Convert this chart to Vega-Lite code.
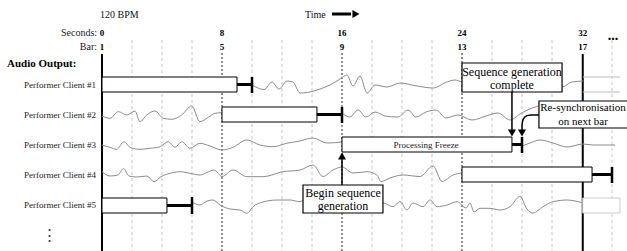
{
  "$schema": "https://vega.github.io/schema/vega-lite/v6.json",
  "width": 627,
  "height": 251,
  "autosize": {"type": "none"},
  "padding": 0,
  "background": "white",
  "config": {"view": {"stroke": null}, "font": "Liberation Serif"},
  "encoding": {
    "x": {"field": "sec", "type": "quantitative", "scale": {"domain": [-6.8, 35]}, "axis": null},
    "y": {"field": "v", "type": "quantitative", "scale": {"domain": [251, 0]}, "axis": null}
  },
  "layer": [
    {
      "data": {"values": [
        {"sec": 2, "v": 40, "v2": 251}, {"sec": 4, "v": 40, "v2": 251}, {"sec": 6, "v": 40, "v2": 251},
        {"sec": 10, "v": 40, "v2": 251}, {"sec": 12, "v": 40, "v2": 251}, {"sec": 14, "v": 40, "v2": 251},
        {"sec": 18, "v": 40, "v2": 251}, {"sec": 20, "v": 40, "v2": 251}, {"sec": 22, "v": 40, "v2": 251},
        {"sec": 26, "v": 40, "v2": 251}, {"sec": 28, "v": 40, "v2": 251}, {"sec": 30, "v": 40, "v2": 251},
        {"sec": 34, "v": 40, "v2": 251}
      ]},
      "mark": {"type": "rule", "color": "#c4c4c4", "strokeWidth": 1, "strokeDash": [3, 3]},
      "encoding": {"y2": {"field": "v2"}}
    },
    {
      "data": {"values": [
        {"sec": 8, "v": 53, "v2": 251}, {"sec": 16, "v": 53, "v2": 251}, {"sec": 24, "v": 53, "v2": 251}
      ]},
      "mark": {"type": "rule", "color": "#222222", "strokeWidth": 1, "strokeDash": [2, 2]},
      "encoding": {"y2": {"field": "v2"}}
    },
    {
      "data": {"values": [
        {"sec": 0, "v": 54, "v2": 251}, {"sec": 32.05, "v": 54, "v2": 251}
      ]},
      "mark": {"type": "rule", "color": "#000000", "strokeWidth": 2},
      "encoding": {"y2": {"field": "v2"}}
    },
    {
      "data": {"values": [
        {"seg": "c1", "sec": 10, "v": 85}, {"seg": "c1", "sec": 10.4, "v": 88}, {"seg": "c1", "sec": 10.8, "v": 89.5},
        {"seg": "c1", "sec": 11.33, "v": 82}, {"seg": "c1", "sec": 11.8, "v": 89}, {"seg": "c1", "sec": 12.33, "v": 81},
        {"seg": "c1", "sec": 12.73, "v": 82}, {"seg": "c1", "sec": 13.2, "v": 93}, {"seg": "c1", "sec": 13.87, "v": 92},
        {"seg": "c1", "sec": 14.53, "v": 89}, {"seg": "c1", "sec": 15.2, "v": 85}, {"seg": "c1", "sec": 15.87, "v": 79},
        {"seg": "c1", "sec": 16.33, "v": 75}, {"seg": "c1", "sec": 16.73, "v": 86}, {"seg": "c1", "sec": 17.2, "v": 76},
        {"seg": "c1", "sec": 17.67, "v": 93}, {"seg": "c1", "sec": 18.2, "v": 85}, {"seg": "c1", "sec": 19, "v": 87},
        {"seg": "c1", "sec": 19.87, "v": 83}, {"seg": "c1", "sec": 21, "v": 86}, {"seg": "c1", "sec": 22.07, "v": 88},
        {"seg": "c1", "sec": 23, "v": 82}, {"seg": "c1", "sec": 23.53, "v": 80}, {"seg": "c1", "sec": 24, "v": 82},
        {"seg": "c1", "sec": 25.2, "v": 84}, {"seg": "c1", "sec": 26.53, "v": 80}, {"seg": "c1", "sec": 27.87, "v": 86},
        {"seg": "c1", "sec": 29.2, "v": 82}, {"seg": "c1", "sec": 30.67, "v": 87}, {"seg": "c1", "sec": 31.33, "v": 82},
        {"seg": "c1", "sec": 32.07, "v": 81},

        {"seg": "c2a", "sec": 0, "v": 116}, {"seg": "c2a", "sec": 0.53, "v": 118.3}, {"seg": "c2a", "sec": 1.09, "v": 111.7},
        {"seg": "c2a", "sec": 1.65, "v": 115}, {"seg": "c2a", "sec": 2.2, "v": 111}, {"seg": "c2a", "sec": 2.53, "v": 121.7},
        {"seg": "c2a", "sec": 2.98, "v": 115}, {"seg": "c2a", "sec": 3.53, "v": 111}, {"seg": "c2a", "sec": 4.09, "v": 118.3},
        {"seg": "c2a", "sec": 4.65, "v": 119.3}, {"seg": "c2a", "sec": 5.31, "v": 115}, {"seg": "c2a", "sec": 5.98, "v": 106},
        {"seg": "c2a", "sec": 6.53, "v": 121.7}, {"seg": "c2a", "sec": 7.09, "v": 117.3}, {"seg": "c2a", "sec": 7.53, "v": 113.3},
        {"seg": "c2a", "sec": 8, "v": 112.7},

        {"seg": "c2b", "sec": 16, "v": 113}, {"seg": "c2b", "sec": 16.53, "v": 117}, {"seg": "c2b", "sec": 17.07, "v": 110},
        {"seg": "c2b", "sec": 17.6, "v": 117}, {"seg": "c2b", "sec": 18.2, "v": 112}, {"seg": "c2b", "sec": 18.87, "v": 116},
        {"seg": "c2b", "sec": 19.73, "v": 117}, {"seg": "c2b", "sec": 20.4, "v": 110}, {"seg": "c2b", "sec": 20.93, "v": 117},
        {"seg": "c2b", "sec": 21.6, "v": 112}, {"seg": "c2b", "sec": 22.27, "v": 110}, {"seg": "c2b", "sec": 22.93, "v": 118},
        {"seg": "c2b", "sec": 23.73, "v": 115}, {"seg": "c2b", "sec": 24.67, "v": 120}, {"seg": "c2b", "sec": 25.6, "v": 116},
        {"seg": "c2b", "sec": 26.4, "v": 113}, {"seg": "c2b", "sec": 27.2, "v": 120}, {"seg": "c2b", "sec": 27.87, "v": 114},
        {"seg": "c2b", "sec": 28.67, "v": 108}, {"seg": "c2b", "sec": 29.53, "v": 105},

        {"seg": "c3a", "sec": 0, "v": 145}, {"seg": "c3a", "sec": 0.53, "v": 147.3}, {"seg": "c3a", "sec": 0.98, "v": 149.3},
        {"seg": "c3a", "sec": 1.47, "v": 141.7}, {"seg": "c3a", "sec": 1.87, "v": 147.3}, {"seg": "c3a", "sec": 2.53, "v": 149.3},
        {"seg": "c3a", "sec": 3.2, "v": 148.3}, {"seg": "c3a", "sec": 3.87, "v": 146.7}, {"seg": "c3a", "sec": 4.42, "v": 141.7},
        {"seg": "c3a", "sec": 4.87, "v": 147.3}, {"seg": "c3a", "sec": 5.31, "v": 141.7}, {"seg": "c3a", "sec": 5.87, "v": 148.3},
        {"seg": "c3a", "sec": 6.53, "v": 143.3}, {"seg": "c3a", "sec": 7.2, "v": 146}, {"seg": "c3a", "sec": 8, "v": 150},
        {"seg": "c3a", "sec": 8.73, "v": 147.3}, {"seg": "c3a", "sec": 9.65, "v": 140}, {"seg": "c3a", "sec": 10.53, "v": 145},
        {"seg": "c3a", "sec": 11.4, "v": 146.7}, {"seg": "c3a", "sec": 12.31, "v": 143.3}, {"seg": "c3a", "sec": 13.2, "v": 141},
        {"seg": "c3a", "sec": 14.07, "v": 138}, {"seg": "c3a", "sec": 15, "v": 143}, {"seg": "c3a", "sec": 16, "v": 142},

        {"seg": "c3b", "sec": 28, "v": 146}, {"seg": "c3b", "sec": 28.53, "v": 143}, {"seg": "c3b", "sec": 29.2, "v": 140},
        {"seg": "c3b", "sec": 30.07, "v": 143}, {"seg": "c3b", "sec": 31, "v": 147}, {"seg": "c3b", "sec": 32.07, "v": 144},
        {"seg": "c3b", "sec": 32.73, "v": 145}, {"seg": "c3b", "sec": 33.53, "v": 145}, {"seg": "c3b", "sec": 34.2, "v": 145},

        {"seg": "c4", "sec": 0, "v": 171.7}, {"seg": "c4", "sec": 0.53, "v": 176}, {"seg": "c4", "sec": 1.07, "v": 175},
        {"seg": "c4", "sec": 1.43, "v": 168.5}, {"seg": "c4", "sec": 1.8, "v": 176}, {"seg": "c4", "sec": 2.33, "v": 177},
        {"seg": "c4", "sec": 3, "v": 176}, {"seg": "c4", "sec": 3.47, "v": 181.7}, {"seg": "c4", "sec": 3.93, "v": 176.7},
        {"seg": "c4", "sec": 4.53, "v": 173.3}, {"seg": "c4", "sec": 5.2, "v": 171.7}, {"seg": "c4", "sec": 5.87, "v": 173.3},
        {"seg": "c4", "sec": 6.53, "v": 175}, {"seg": "c4", "sec": 7, "v": 172.5}, {"seg": "c4", "sec": 7.47, "v": 170},
        {"seg": "c4", "sec": 8, "v": 176.5}, {"seg": "c4", "sec": 8.73, "v": 170}, {"seg": "c4", "sec": 9.67, "v": 176.7},
        {"seg": "c4", "sec": 10.73, "v": 176.7}, {"seg": "c4", "sec": 12.07, "v": 171.7}, {"seg": "c4", "sec": 13.2, "v": 170},
        {"seg": "c4", "sec": 14.07, "v": 165}, {"seg": "c4", "sec": 14.73, "v": 176.5}, {"seg": "c4", "sec": 15.4, "v": 170},
        {"seg": "c4", "sec": 16, "v": 167}, {"seg": "c4", "sec": 16.73, "v": 173}, {"seg": "c4", "sec": 17.67, "v": 171.7},
        {"seg": "c4", "sec": 18.33, "v": 175}, {"seg": "c4", "sec": 18.6, "v": 181.5}, {"seg": "c4", "sec": 19.2, "v": 178},
        {"seg": "c4", "sec": 20.07, "v": 175}, {"seg": "c4", "sec": 21.2, "v": 176.5}, {"seg": "c4", "sec": 22.07, "v": 166},
        {"seg": "c4", "sec": 22.67, "v": 181.5}, {"seg": "c4", "sec": 23.4, "v": 175}, {"seg": "c4", "sec": 24, "v": 173},

        {"seg": "c5", "sec": 6, "v": 202}, {"seg": "c5", "sec": 6.53, "v": 205}, {"seg": "c5", "sec": 7, "v": 201},
        {"seg": "c5", "sec": 7.4, "v": 200}, {"seg": "c5", "sec": 7.87, "v": 205}, {"seg": "c5", "sec": 8.53, "v": 209},
        {"seg": "c5", "sec": 9.2, "v": 210}, {"seg": "c5", "sec": 9.67, "v": 213.3}, {"seg": "c5", "sec": 10.07, "v": 206.7},
        {"seg": "c5", "sec": 10.73, "v": 202}, {"seg": "c5", "sec": 11.67, "v": 200}, {"seg": "c5", "sec": 12.53, "v": 200},
        {"seg": "c5", "sec": 13.2, "v": 201.7}, {"seg": "c5", "sec": 13.67, "v": 197.5}, {"seg": "c5", "sec": 14.07, "v": 205},
        {"seg": "c5", "sec": 15, "v": 205}, {"seg": "c5", "sec": 15.87, "v": 203}, {"seg": "c5", "sec": 17.2, "v": 205},
        {"seg": "c5", "sec": 18.73, "v": 203}, {"seg": "c5", "sec": 19.4, "v": 206.7}, {"seg": "c5", "sec": 19.87, "v": 201.5},
        {"seg": "c5", "sec": 20.33, "v": 210}, {"seg": "c5", "sec": 20.73, "v": 203}, {"seg": "c5", "sec": 21.4, "v": 206.7},
        {"seg": "c5", "sec": 21.87, "v": 200}, {"seg": "c5", "sec": 22.33, "v": 206.7}, {"seg": "c5", "sec": 23, "v": 205},
        {"seg": "c5", "sec": 23.67, "v": 201.7}, {"seg": "c5", "sec": 24.27, "v": 208}, {"seg": "c5", "sec": 24.53, "v": 203},
        {"seg": "c5", "sec": 24.8, "v": 212}, {"seg": "c5", "sec": 25.2, "v": 208.3}, {"seg": "c5", "sec": 25.87, "v": 208.3},
        {"seg": "c5", "sec": 26.53, "v": 210}, {"seg": "c5", "sec": 27.2, "v": 206.7}, {"seg": "c5", "sec": 27.87, "v": 196.5},
        {"seg": "c5", "sec": 28.33, "v": 209}, {"seg": "c5", "sec": 28.73, "v": 213}, {"seg": "c5", "sec": 29.4, "v": 206.7},
        {"seg": "c5", "sec": 30.07, "v": 201.7}, {"seg": "c5", "sec": 31, "v": 200}, {"seg": "c5", "sec": 32.07, "v": 203}
      ]},
      "mark": {"type": "line", "color": "#8c8c8c", "strokeWidth": 1, "interpolate": "monotone"},
      "encoding": {"detail": {"field": "seg", "type": "nominal"}}
    },
    {
      "data": {"values": [
        {"sec": 32.05, "sec2": 34.53, "v": 77}, {"sec": 32.05, "sec2": 34.53, "v": 92}
      ]},
      "mark": {"type": "rule", "color": "#bdbdbd", "strokeWidth": 1},
      "encoding": {"x2": {"field": "sec2"}}
    },
    {
      "data": {"values": [
        {"sec": 32.05, "sec2": 34.53, "v": 198, "v2": 213}
      ]},
      "mark": {"type": "rect", "fill": "white", "stroke": "#cccccc", "strokeWidth": 1},
      "encoding": {"x2": {"field": "sec2"}, "y2": {"field": "v2"}}
    },
    {
      "data": {"values": [
        {"client": 1, "sec": 0, "sec2": 9, "v": 77, "v2": 92},
        {"client": 2, "sec": 8, "sec2": 14.33, "v": 107, "v2": 122},
        {"client": 3, "sec": 16, "sec2": 27.33, "v": 137, "v2": 152},
        {"client": 4, "sec": 24, "sec2": 32.67, "v": 167, "v2": 182},
        {"client": 5, "sec": 0, "sec2": 4.33, "v": 198, "v2": 213}
      ]},
      "mark": {"type": "rect", "fill": "white", "stroke": "#000000", "strokeWidth": 1},
      "encoding": {"x2": {"field": "sec2"}, "y2": {"field": "v2"}}
    },
    {
      "data": {"values": [
        {"sec": 9, "sec2": 10, "v": 84.5},
        {"sec": 14.33, "sec2": 16, "v": 114.5},
        {"sec": 27.33, "sec2": 28, "v": 144.5},
        {"sec": 32.67, "sec2": 34, "v": 174.5},
        {"sec": 4.33, "sec2": 6, "v": 205.5}
      ]},
      "mark": {"type": "rule", "color": "#000000", "strokeWidth": 3},
      "encoding": {"x2": {"field": "sec2"}}
    },
    {
      "data": {"values": [
        {"sec": 10, "v": 77, "v2": 93},
        {"sec": 16, "v": 107, "v2": 123},
        {"sec": 28, "v": 137, "v2": 153},
        {"sec": 34, "v": 167, "v2": 183},
        {"sec": 6, "v": 197, "v2": 214}
      ]},
      "mark": {"type": "rule", "color": "#000000", "strokeWidth": 2.5},
      "encoding": {"y2": {"field": "v2"}}
    },
    {
      "data": {"values": [
        {"sec": 13.4, "sec2": 18.73, "v": 185, "v2": 213},
        {"sec": 24, "sec2": 30.67, "v": 63, "v2": 92},
        {"sec": 29.13, "sec2": 36, "v": 101, "v2": 128}
      ]},
      "mark": {"type": "rect", "fill": "white", "stroke": "#000000", "strokeWidth": 1.2},
      "encoding": {"x2": {"field": "sec2"}, "y2": {"field": "v2"}}
    },
    {
      "data": {"values": [
        {"sec": 16, "v": 157, "v2": 185},
        {"sec": 27.33, "v": 92, "v2": 131}
      ]},
      "mark": {"type": "rule", "color": "#000000", "strokeWidth": 1.5},
      "encoding": {"y2": {"field": "v2"}}
    },
    {
      "data": {"values": [
        {"i": 1, "sec": 29.13, "v": 115}, {"i": 2, "sec": 28.6, "v": 115}, {"i": 3, "sec": 28.33, "v": 115.6},
        {"i": 4, "sec": 28.17, "v": 117.2}, {"i": 5, "sec": 28.07, "v": 119.5}, {"i": 6, "sec": 28.02, "v": 122.5},
        {"i": 7, "sec": 28, "v": 126}, {"i": 8, "sec": 28, "v": 131}
      ]},
      "mark": {"type": "line", "color": "#000000", "strokeWidth": 1.5},
      "encoding": {"order": {"field": "i", "type": "quantitative"}}
    },
    {
      "data": {"values": [
        {"sec": 15.33, "sec2": 16.6, "v": 14}
      ]},
      "mark": {"type": "rule", "color": "#000000", "strokeWidth": 3},
      "encoding": {"x2": {"field": "sec2"}}
    },
    {
      "data": {"values": [
        {"sec": 27.33, "v": 133, "dir": "down"},
        {"sec": 28, "v": 133, "dir": "down"},
        {"sec": 16, "v": 156, "dir": "up"},
        {"sec": 16.93, "v": 14, "dir": "right"}
      ]},
      "mark": {"type": "point", "filled": true, "color": "#000000", "opacity": 1, "size": 65},
      "encoding": {
        "shape": {"field": "dir", "type": "nominal", "legend": null,
                  "scale": {"domain": ["down", "up", "right"], "range": ["triangle-down", "triangle-up", "triangle-right"]}}
      }
    },
    {
      "data": {"values": [
        {"label": "Performer Client #1", "sec": -0.4, "v": 85},
        {"label": "Performer Client #2", "sec": -0.4, "v": 115},
        {"label": "Performer Client #3", "sec": -0.4, "v": 145},
        {"label": "Performer Client #4", "sec": -0.4, "v": 175},
        {"label": "Performer Client #5", "sec": -0.4, "v": 205}
      ]},
      "mark": {"type": "text", "align": "right", "baseline": "middle", "fontSize": 9, "font": "Liberation Serif", "color": "#222222"},
      "encoding": {"text": {"field": "label"}}
    },
    {
      "data": {"values": [
        {"label": "Seconds:", "sec": -0.33, "v": 33},
        {"label": "Bar:", "sec": -0.33, "v": 47}
      ]},
      "mark": {"type": "text", "align": "right", "baseline": "middle", "fontSize": 10, "font": "Liberation Serif", "color": "#222222"},
      "encoding": {"text": {"field": "label"}}
    },
    {
      "data": {"values": [
        {"label": "120 BPM", "sec": -0.13, "v": 15},
        {"label": "Time", "sec": 13.53, "v": 15}
      ]},
      "mark": {"type": "text", "align": "left", "baseline": "middle", "fontSize": 10, "font": "Liberation Serif", "color": "#111111"},
      "encoding": {"text": {"field": "label"}}
    },
    {
      "data": {"values": [
        {"label": "0", "sec": 0, "v": 33}, {"label": "8", "sec": 8, "v": 33}, {"label": "16", "sec": 16, "v": 33},
        {"label": "24", "sec": 24, "v": 33}, {"label": "32", "sec": 32.05, "v": 33},
        {"label": "1", "sec": 0, "v": 47}, {"label": "5", "sec": 8, "v": 47}, {"label": "9", "sec": 16, "v": 47},
        {"label": "13", "sec": 24, "v": 47}, {"label": "17", "sec": 32.05, "v": 47}
      ]},
      "mark": {"type": "text", "align": "center", "baseline": "middle", "fontSize": 9, "fontWeight": "bold", "font": "Liberation Serif", "color": "#000000"},
      "encoding": {"text": {"field": "label"}}
    },
    {
      "data": {"values": [
        {"label": "...", "sec": 34.07, "v": 36}
      ]},
      "mark": {"type": "text", "align": "center", "baseline": "middle", "fontSize": 14, "fontWeight": "bold", "font": "Liberation Serif", "color": "#000000"},
      "encoding": {"text": {"field": "label"}}
    },
    {
      "data": {"values": [
        {"label": "Audio Output:", "sec": -6.33, "v": 64}
      ]},
      "mark": {"type": "text", "align": "left", "baseline": "middle", "fontSize": 11, "fontWeight": "bold", "font": "Liberation Serif", "color": "#000000"},
      "encoding": {"text": {"field": "label"}}
    },
    {
      "data": {"values": [
        {"label": "⋮", "sec": -3.53, "v": 235}
      ]},
      "mark": {"type": "text", "align": "center", "baseline": "middle", "fontSize": 15, "font": "DejaVu Serif", "color": "#333333"},
      "encoding": {"text": {"field": "label"}}
    },
    {
      "data": {"values": [
        {"label": "Processing Freeze", "sec": 21.6, "v": 145}
      ]},
      "mark": {"type": "text", "align": "center", "baseline": "middle", "fontSize": 9, "font": "Liberation Serif", "color": "#222222"},
      "encoding": {"text": {"field": "label"}}
    },
    {
      "data": {"values": [
        {"label": "Sequence generation", "sec": 27.33, "v": 72, "size": 12},
        {"label": "complete", "sec": 27.33, "v": 85, "size": 12},
        {"label": "Begin sequence", "sec": 16.07, "v": 192.5, "size": 12},
        {"label": "generation", "sec": 16.07, "v": 205.5, "size": 12}
      ]},
      "mark": {"type": "text", "align": "center", "baseline": "middle", "fontSize": 12, "font": "Liberation Serif", "color": "#000000"},
      "encoding": {"text": {"field": "label"}}
    },
    {
      "data": {"values": [
        {"label": "Re-synchronisation", "sec": 32.07, "v": 107.5},
        {"label": "on next bar", "sec": 32.07, "v": 121.5}
      ]},
      "mark": {"type": "text", "align": "center", "baseline": "middle", "fontSize": 11, "font": "Liberation Serif", "color": "#000000"},
      "encoding": {"text": {"field": "label"}}
    }
  ]
}
